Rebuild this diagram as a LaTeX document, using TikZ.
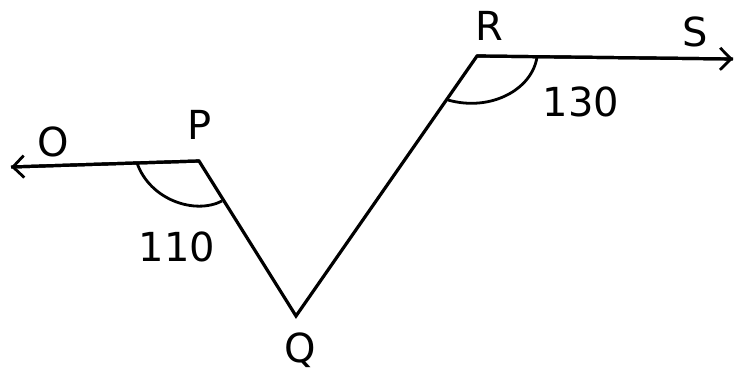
\documentclass[tikz,border=0pt]{standalone}
\usepackage{fontspec}
\setmainfont{DejaVu Sans}
\usetikzlibrary{arrows.meta}
\begin{document}
\begin{tikzpicture}[x=1pt,y=-1pt,
  ray/.style={line width=3.2pt,-{Straight Barb[length=11pt,width=22pt,line width=2.8pt]}},
  seg/.style={line width=3.2pt,line join=miter},
  arcl/.style={line width=2.8pt},
  lbl/.style={font=\fontsize{40}{40}\selectfont,inner sep=0pt}]
\useasboundingbox (0,0) rectangle (738,371);
\fill[white] (0,0) rectangle (738,371);
\coordinate (O) at (11,167);
\coordinate (P) at (199,161);
\coordinate (Q) at (296,316);
\coordinate (R) at (477,56);
\coordinate (S) at (733,59);
\draw[seg] (O) -- (P) -- (Q) -- (R) -- (S);
\draw[ray] (P) -- (O);
\draw[ray] (R) -- (S);
\draw[arcl] (137,163) .. controls (150,200) and (195,215) .. (222,201);
\draw[arcl] (537,57) .. controls (532,90) and (490,112) .. (448,100);
\node[lbl] (lO) at (53,142) {O};
\node[lbl] (lP) at (200,125) {P};
\node[lbl] (lQ) at (300,350) {Q};
\node[lbl] (lR) at (489,26) {R};
\node[lbl] (lS) at (695,32) {S};
\node[lbl] (l110) at (177,247) {110};
\node[lbl] (l130) at (581,102) {130};
\end{tikzpicture}
\end{document}
